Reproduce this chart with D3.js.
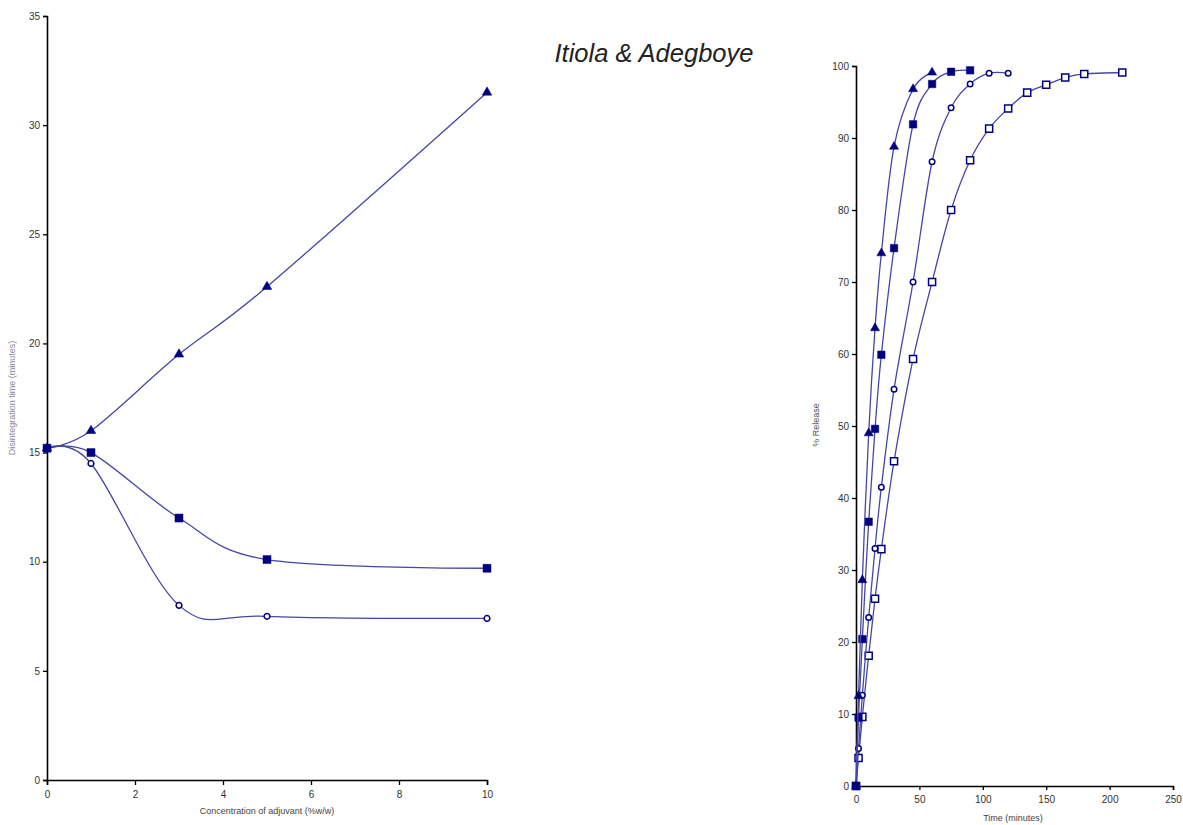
<!DOCTYPE html>
<html>
<head>
<meta charset="utf-8">
<script src="https://cdn.jsdelivr.net/npm/d3@7"></script>
<style>
  body { margin: 0; background: #fff; }
  text { font-family: "Liberation Sans", Arial, sans-serif; }
</style>
</head>
<body>
<script>
// Itiola & Adegboye - disintegration time and release profiles

// left chart data
var concentration = [0, 1, 3, 5, 10];
var dtTriangle = [15.2, 16, 19.5, 22.6, 31.5];
var dtSquare = [15.2, 15, 12, 10.1, 9.7];
var dtCircle = [15.2, 14.5, 8, 7.5, 7.4];
var leftYTicks = [0, 5, 10, 15, 20, 25, 30, 35];
var leftXTicks = [0, 2, 4, 6, 8, 10];

// right chart data
var timeTriangle = [0, 2, 5, 10, 15, 20, 30, 45, 60];
var relTriangle = [0, 12.5, 28.6, 49, 63.6, 74, 88.8, 96.8, 99.1];
var timeSquare = [0, 2, 5, 10, 15, 20, 30, 45, 60, 75, 90];
var relSquare = [0, 9.5, 20.4, 36.7, 49.6, 59.9, 74.7, 91.9, 97.5, 99.2, 99.4];
var timeCircle = [0, 2, 5, 10, 15, 20, 30, 45, 60, 75, 90, 105, 120];
var relCircle = [0, 5.2, 12.6, 23.4, 33, 41.5, 55.1, 70, 86.7, 94.2, 97.5, 99, 99];
var timeOpenSq = [0, 2, 5, 10, 15, 20, 30, 45, 60, 75, 90, 105, 120, 135, 150, 165, 180, 210];
var relOpenSq = [0, 3.9, 9.6, 18.1, 26, 32.9, 45.1, 59.3, 70, 80, 86.9, 91.3, 94.1, 96.3, 97.4, 98.4, 98.9, 99.1];
var rightYTicks = [0, 10, 20, 30, 40, 50, 60, 70, 80, 90, 100];
var rightXTicks = [0, 50, 100, 150, 200, 250];

var svgWidth = 1183;
var svgHeight = 825;
var lineColor = "#4646a6";
var markColor = "#000080";

var svg = d3.select("body")
  .append("svg")
  .attr("width", svgWidth)
  .attr("height", svgHeight);

function zip(xs, ys) {
  return xs.map(function (x, i) { return [x, ys[i]]; });
}

function styleAxis(g) {
  g.select(".domain").attr("stroke", "#000").attr("stroke-width", 1.6);
  g.selectAll(".tick line").attr("stroke", "#000").attr("stroke-width", 1.3);
  g.selectAll(".tick text")
    .attr("fill", "#333")
    .style("font-size", "10px");
}

// draw one series: smooth line plus markers
function drawSeries(g, x, y, pts, shape, filled, size) {
  var line = d3.line()
    .x(function (d) { return x(d[0]); })
    .y(function (d) { return y(d[1]); })
    .curve(d3.curveCardinal.tension(0));

  g.append("path")
    .attr("d", line(pts))
    .attr("fill", "none")
    .attr("stroke", lineColor)
    .attr("stroke-width", 1.3);

  var sym = d3.symbol().type(shape).size(size);
  g.selectAll(null)
    .data(pts)
    .enter()
    .append("path")
    .attr("d", sym)
    .attr("transform", function (d) {
      return "translate(" + x(d[0]) + "," + y(d[1]) + ")";
    })
    .attr("fill", filled ? markColor : "#fff")
    .attr("stroke", markColor)
    .attr("stroke-width", filled ? 0.5 : 1.5);
}

// ---------- left chart ----------
var xLeft = d3.scaleLinear().domain([0, 10]).range([47, 487]);
var yLeft = d3.scaleLinear().domain([0, 35]).range([780, 16]);

var left = svg.append("g");

left.append("g")
  .attr("transform", "translate(0,780)")
  .call(d3.axisBottom(xLeft).tickValues(leftXTicks).tickSizeOuter(0).tickSize(5).tickPadding(6))
  .call(styleAxis);

left.append("g")
  .attr("transform", "translate(47,0)")
  .call(d3.axisLeft(yLeft).tickValues(leftYTicks).tickSizeOuter(0).tickSize(4).tickPadding(3))
  .call(styleAxis);

drawSeries(left, xLeft, yLeft, zip(concentration, dtTriangle), d3.symbolTriangle, true, 40);
drawSeries(left, xLeft, yLeft, zip(concentration, dtCircle), d3.symbolCircle, false, 26);
drawSeries(left, xLeft, yLeft, zip(concentration, dtSquare), d3.symbolSquare, true, 64);

left.append("text")
  .attr("x", 267)
  .attr("y", 814)
  .attr("text-anchor", "middle")
  .style("font-size", "9px")
  .attr("fill", "#444")
  .text("Concentration of adjuvant (%w/w)");

left.append("text")
  .attr("transform", "translate(15,398) rotate(-90)")
  .attr("text-anchor", "middle")
  .style("font-size", "9px")
  .attr("fill", "#8a8a9a")
  .text("Disintegration time (minutes)");

// ---------- right chart ----------
var xRight = d3.scaleLinear().domain([0, 250]).range([856, 1173]);
var yRight = d3.scaleLinear().domain([0, 100]).range([786, 66]);

var right = svg.append("g");

right.append("g")
  .attr("transform", "translate(0,786)")
  .call(d3.axisBottom(xRight).tickValues(rightXTicks).tickSizeOuter(0).tickSize(4).tickPadding(6))
  .call(styleAxis);

right.append("g")
  .attr("transform", "translate(856,0)")
  .call(d3.axisLeft(yRight).tickValues(rightYTicks).tickSizeOuter(0).tickSize(4).tickPadding(3))
  .call(styleAxis);

drawSeries(right, xRight, yRight, zip(timeOpenSq, relOpenSq), d3.symbolSquare, false, 50);
drawSeries(right, xRight, yRight, zip(timeCircle, relCircle), d3.symbolCircle, false, 24);
drawSeries(right, xRight, yRight, zip(timeSquare, relSquare), d3.symbolSquare, true, 56);
drawSeries(right, xRight, yRight, zip(timeTriangle, relTriangle), d3.symbolTriangle, true, 36);

right.append("text")
  .attr("x", 1013)
  .attr("y", 821)
  .attr("text-anchor", "middle")
  .style("font-size", "9px")
  .attr("fill", "#444")
  .text("Time (minutes)");

right.append("text")
  .attr("transform", "translate(819,425) rotate(-90)")
  .attr("text-anchor", "middle")
  .style("font-size", "9px")
  .attr("fill", "#555")
  .text("% Release");

// title
svg.append("text")
  .attr("x", 654)
  .attr("y", 62)
  .attr("text-anchor", "middle")
  .style("font-size", "25.5px")
  .style("font-style", "italic")
  .attr("fill", "#222")
  .text("Itiola & Adegboye");
</script>
</body>
</html>
